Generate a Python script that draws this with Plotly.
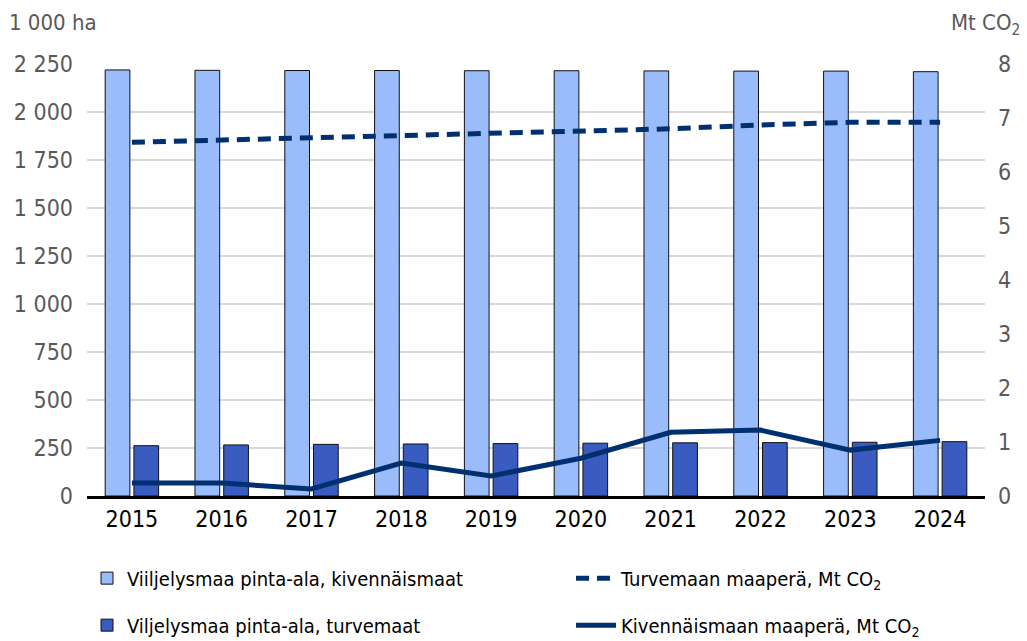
import plotly.graph_objects as go

years = ["2015", "2016", "2017", "2018", "2019", "2020", "2021", "2022", "2023", "2024"]
area_mineral = [2219, 2217, 2216, 2216, 2215, 2215, 2214, 2213, 2213, 2210]
area_peat = [262, 266, 269, 271, 273, 275, 277, 278, 280, 283]
co2_peat = [6.55, 6.59, 6.62, 6.67, 6.71, 6.76, 6.80, 6.87, 6.92, 6.92]
co2_mineral = [0.24, 0.24, 0.13, 0.61, 0.37, 0.70, 1.18, 1.22, 0.85, 1.03]

left_ticks = [0, 250, 500, 750, 1000, 1250, 1500, 1750, 2000, 2250]
left_labels = ["0", "250", "500", "750", "1 000", "1 250", "1 500", "1 750", "2 000", "2 250"]
right_ticks = [0, 1, 2, 3, 4, 5, 6, 7, 8]

FONT = "DejaVu Sans Condensed, Liberation Sans Narrow, sans-serif"

fig = go.Figure()
fig.add_trace(go.Bar(x=years, y=area_mineral, name="Viiljelysmaa pinta-ala, kivennäismaat",
                     marker=dict(color="#9bbcfb", line=dict(color="#111111", width=1)),
                     legend="legend", legendgroup="a"))
fig.add_trace(go.Bar(x=years, y=area_peat, name="Viljelysmaa pinta-ala, turvemaat",
                     marker=dict(color="#3a5bbf", line=dict(color="#111111", width=1)),
                     legend="legend", legendgroup="b"))
fig.add_trace(go.Scatter(x=years, y=co2_peat, name="Turvemaan maaperä, Mt CO<sub>2</sub>",
                         mode="lines", yaxis="y2",
                         line=dict(color="#003070", width=5, dash="13px,8px"),
                         legend="legend2", legendgroup="c"))
fig.add_trace(go.Scatter(x=years, y=co2_mineral, name="Kivennäismaan maaperä, Mt CO<sub>2</sub>",
                         mode="lines", yaxis="y2",
                         line=dict(color="#003070", width=5),
                         legend="legend2", legendgroup="d"))

fig.update_layout(
    width=1019, height=633,
    margin=dict(l=79, r=42, t=56, b=145, autoexpand=False),
    paper_bgcolor="white", plot_bgcolor="white",
    font=dict(family=FONT, size=20, color="#595959"),
    barmode="group", bargap=0.36, bargroupgap=0.14,
    xaxis=dict(type="category", showline=True, linecolor="black", linewidth=3,
               tickfont=dict(color="black", size=23), ticks="", showgrid=False),
    yaxis=dict(range=[0, 2250], tickvals=left_ticks, ticktext=left_labels,
               tickfont=dict(size=23),
               showgrid=True, gridcolor="#d9d9d9", gridwidth=1.5, zeroline=False,
               ticks="", ticklabelstandoff=13),
    yaxis2=dict(range=[0, 8], tickvals=right_ticks, overlaying="y", side="right",
                tickfont=dict(size=23),
                showgrid=False, zeroline=False, ticks="", ticklabelstandoff=12),
    legend=dict(x=0.0, y=-0.145, xanchor="left", yanchor="top", orientation="v",
                font=dict(color="black", size=20), traceorder="grouped", tracegroupgap=18,
                itemwidth=30, bgcolor="rgba(0,0,0,0)"),
    legend2=dict(x=0.539, y=-0.145, xanchor="left", yanchor="top", orientation="v",
                 font=dict(color="black", size=20), traceorder="grouped", tracegroupgap=18,
                 itemwidth=40, bgcolor="rgba(0,0,0,0)"),
    annotations=[
        dict(text="1 000 ha", x=0, y=1, xref="paper", yref="paper", xanchor="left", yanchor="top",
             xshift=-80, yshift=56, showarrow=False, font=dict(size=22, color="#595959")),
        dict(text="Mt CO<sub>2</sub>", x=1, y=1, xref="paper", yref="paper", xanchor="right", yanchor="top",
             xshift=37, yshift=56, showarrow=False, font=dict(size=22, color="#595959")),
    ],
)

fig.write_html("out.html")
